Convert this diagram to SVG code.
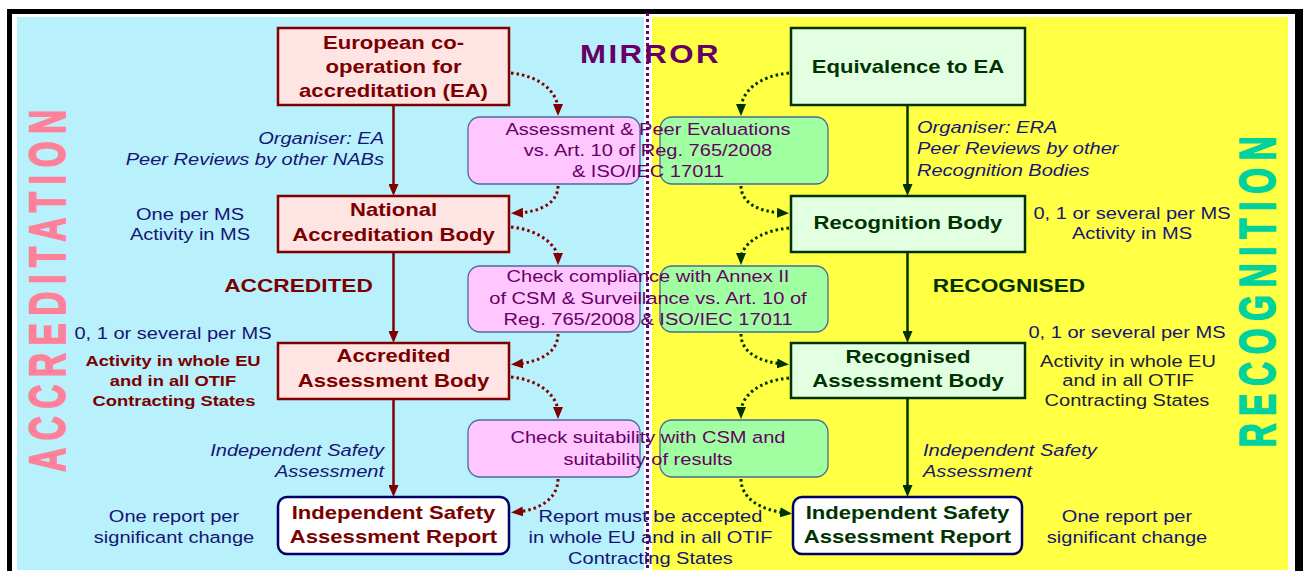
<svg xmlns="http://www.w3.org/2000/svg" width="1304" height="571" viewBox="0 0 1304 571">
<defs>
<style>
text{font-family:"Liberation Sans",Arial,sans-serif;}
.r{font-size:16.7px;}
.b{font-weight:bold;font-size:18.4px;}
.bs{font-weight:bold;font-size:15.3px;}
.bl{font-weight:bold;font-size:18.9px;}
.side{font-weight:bold;font-size:33px;letter-spacing:7.8px;text-anchor:middle;stroke-width:1.3px;}
.i{font-style:italic;}
.m{text-anchor:middle;}
.e{text-anchor:end;}
.navy{fill:#151573;}
.dred{fill:#7A0000;}
.dgrn{fill:#003300;}
.purp{fill:#660066;}
.dark{fill:#1C1C3A;}
.nl{fill:#FFE4E4;stroke:#800000;stroke-width:2.5;}
.nr{fill:#E2FFE2;stroke:#003300;stroke-width:2.5;}
.ni{fill:#FFFFFF;stroke:#000066;stroke-width:2.5;}
.mp{fill:#FFC6FF;stroke:#4A6B9A;stroke-width:1.3;}
.mg{fill:#A0FFA0;stroke:#4A6B9A;stroke-width:1.3;}
.sr{fill:none;stroke:#800000;stroke-width:2.5;}
.sg{fill:none;stroke:#003300;stroke-width:2.5;}
.dr{fill:none;stroke:#800000;stroke-width:3;stroke-dasharray:2.5 3;}
.dg{fill:none;stroke:#003300;stroke-width:3;stroke-dasharray:2.5 3;}
</style>
<marker id="arR" markerUnits="userSpaceOnUse" viewBox="0 0 12 10" markerWidth="12" markerHeight="10" refX="6" refY="5" orient="auto"><path d="M0,0 L12,5 L0,10 z" fill="#800000"/></marker>
<marker id="arG" markerUnits="userSpaceOnUse" viewBox="0 0 12 10" markerWidth="12" markerHeight="10" refX="6" refY="5" orient="auto"><path d="M0,0 L12,5 L0,10 z" fill="#003300"/></marker>
</defs>

<rect x="0" y="0" width="1304" height="571" fill="#FFFFFF"/>
<!-- frame -->
<rect x="7" y="9" width="1292" height="5" fill="#000"/>
<rect x="7" y="9" width="5" height="562" fill="#000"/>
<rect x="1295" y="9" width="8" height="562" fill="#000"/>
<!-- backgrounds -->
<rect x="17" y="17" width="627" height="553" fill="#B8F0FC"/>
<rect x="652" y="17" width="636" height="553" fill="#FFFF44"/>

<!-- side titles -->
<text class="side" style="fill:#FF8099;stroke:#FF8099" transform="translate(65 287) rotate(-90) scale(1 1.5)">ACCREDITATION</text>
<text class="side" style="fill:#00D29E;stroke:#00D29E" transform="translate(1275 288) rotate(-90) scale(1 1.5)">RECOGNITION</text>

<!-- middle boxes -->
<g id="mid1">
<rect class="mp" x="468" y="117" width="172" height="67" rx="12"/>
<rect class="mg" x="660" y="117" width="168" height="67" rx="12"/>
</g>
<g id="mid2">
<rect class="mp" x="468" y="266" width="172" height="66" rx="12"/>
<rect class="mg" x="660" y="266" width="168" height="66" rx="12"/>
</g>
<g id="mid3">
<rect class="mp" x="468" y="420" width="172" height="57" rx="12"/>
<rect class="mg" x="660" y="420" width="168" height="57" rx="12"/>
</g>

<!-- divider -->
<line x1="647.5" y1="13" x2="647.5" y2="571" stroke="#660066" stroke-width="3" stroke-dasharray="3 3"/>

<text class="purp" style="font-weight:bold;font-size:26px;letter-spacing:2px" transform="translate(580 63) scale(1.2 1)">MIRROR</text>

<!-- mid texts -->
<g id="mid1-text">
<text class="r m purp" transform="translate(648 135) scale(1.2 1)">Assessment &amp; Peer Evaluations</text>
<text class="r m purp" transform="translate(648 156) scale(1.2 1)">vs. Art. 10 of Reg. 765/2008</text>
<text class="r m purp" transform="translate(648 177) scale(1.2 1)">&amp; ISO/IEC 17011</text>
</g>
<g id="mid2-text">
<text class="r m purp" transform="translate(648 282) scale(1.2 1)">Check compliance with Annex II</text>
<text class="r m purp" transform="translate(648 304) scale(1.2 1)">of CSM &amp; Surveillance vs. Art. 10 of</text>
<text class="r m purp" transform="translate(648 325) scale(1.2 1)">Reg. 765/2008 &amp; ISO/IEC 17011</text>
</g>
<g id="mid3-text">
<text class="r m purp" transform="translate(648 443) scale(1.2 1)">Check suitability with CSM and</text>
<text class="r m purp" transform="translate(648 465) scale(1.2 1)">suitability of results</text>
</g>

<!-- connectors -->
<g id="connectors">
<line class="sr" x1="393.5" y1="105" x2="393.5" y2="190" marker-end="url(#arR)"/>
<line class="sr" x1="393.5" y1="252" x2="393.5" y2="337" marker-end="url(#arR)"/>
<line class="sr" x1="393.5" y1="399" x2="393.5" y2="491" marker-end="url(#arR)"/>
<line class="sg" x1="907.5" y1="105" x2="907.5" y2="190" marker-end="url(#arG)"/>
<line class="sg" x1="907.5" y1="252" x2="907.5" y2="337" marker-end="url(#arG)"/>
<line class="sg" x1="907.5" y1="398" x2="907.5" y2="491" marker-end="url(#arG)"/>

<path class="dr" d="M511,73 C540,76 558,92 558,110" marker-end="url(#arR)"/>
<path class="dr" d="M558,186 C558,203 540,212 517,213" marker-end="url(#arR)"/>
<path class="dr" d="M511,227 C540,230 558,246 558,259" marker-end="url(#arR)"/>
<path class="dr" d="M558,334 C558,352 540,362 517,364" marker-end="url(#arR)"/>
<path class="dr" d="M511,377 C540,380 558,396 558,413" marker-end="url(#arR)"/>
<path class="dr" d="M558,479 C558,498 540,510 517,512" marker-end="url(#arR)"/>

<path class="dg" d="M789,73 C758,76 741,92 741,110" marker-end="url(#arG)"/>
<path class="dg" d="M741,186 C741,203 759,212 783,213" marker-end="url(#arG)"/>
<path class="dg" d="M789,228 C758,231 741,246 741,259" marker-end="url(#arG)"/>
<path class="dg" d="M741,334 C741,352 759,362 783,364" marker-end="url(#arG)"/>
<path class="dg" d="M789,378 C758,381 741,396 741,413" marker-end="url(#arG)"/>
<path class="dg" d="M741,479 C741,498 760,510 786,513" marker-end="url(#arG)"/>
</g>

<!-- left nodes -->
<g id="ea">
<rect class="nl" x="278" y="28" width="231" height="77"/>
<text class="b m dred" transform="translate(393.5 49) scale(1.2 1)">European co-</text>
<text class="b m dred" transform="translate(393.5 73) scale(1.2 1)">operation for</text>
<text class="b m dred" transform="translate(393.5 97) scale(1.2 1)">accreditation (EA)</text>
</g>
<g id="nab">
<rect class="nl" x="278" y="196" width="231" height="56"/>
<text class="b m dred" transform="translate(393.5 216) scale(1.2 1)">National</text>
<text class="b m dred" transform="translate(393.5 241) scale(1.2 1)">Accreditation Body</text>
</g>
<g id="aab">
<rect class="nl" x="278" y="343" width="231" height="56"/>
<text class="b m dred" transform="translate(393.5 362) scale(1.2 1)">Accredited</text>
<text class="b m dred" transform="translate(393.5 387) scale(1.2 1)">Assessment Body</text>
</g>
<g id="isar-left">
<rect class="ni" x="278" y="497" width="231" height="57" rx="9"/>
<text class="b m dred" transform="translate(393.5 519) scale(1.2 1)">Independent Safety</text>
<text class="b m dred" transform="translate(393.5 543) scale(1.2 1)">Assessment Report</text>
</g>

<!-- right nodes -->
<g id="eq">
<rect class="nr" x="791" y="28" width="234" height="77"/>
<text class="b m dgrn" transform="translate(908 73) scale(1.2 1)">Equivalence to EA</text>
</g>
<g id="rb">
<rect class="nr" x="791" y="196" width="234" height="56"/>
<text class="b m dgrn" transform="translate(908 229) scale(1.2 1)">Recognition Body</text>
</g>
<g id="rab">
<rect class="nr" x="791" y="343" width="234" height="55"/>
<text class="b m dgrn" transform="translate(908 363) scale(1.2 1)">Recognised</text>
<text class="b m dgrn" transform="translate(908 387) scale(1.2 1)">Assessment Body</text>
</g>
<g id="isar-right">
<rect class="ni" x="793" y="497" width="229" height="57" rx="9"/>
<text class="b m dgrn" transform="translate(907.5 519) scale(1.2 1)">Independent Safety</text>
<text class="b m dgrn" transform="translate(907.5 543) scale(1.2 1)">Assessment Report</text>
</g>

<!-- left labels -->
<text class="r i e navy" transform="translate(384 144) scale(1.2 1)">Organiser: EA</text>
<text class="r i e navy" transform="translate(384 165) scale(1.2 1)">Peer Reviews by other NABs</text>
<text class="r m navy" transform="translate(190 220) scale(1.2 1)">One per MS</text>
<text class="r m navy" transform="translate(190 240) scale(1.2 1)">Activity in MS</text>
<text class="bl m dred" transform="translate(298.5 292) scale(1.2 1)">ACCREDITED</text>
<text class="r m navy" transform="translate(173 339) scale(1.2 1)">0, 1 or several per MS</text>
<text class="bs m dred" transform="translate(173 366) scale(1.2 1)">Activity in whole EU</text>
<text class="bs m dred" transform="translate(173 386) scale(1.2 1)">and in all OTIF</text>
<text class="bs m dred" transform="translate(174 406) scale(1.2 1)">Contracting States</text>
<text class="r i e navy" transform="translate(384 456) scale(1.2 1)">Independent Safety</text>
<text class="r i e navy" transform="translate(384 477) scale(1.2 1)">Assessment</text>
<text class="r m navy" transform="translate(174 522) scale(1.2 1)">One report per</text>
<text class="r m navy" transform="translate(174 543) scale(1.2 1)">significant change</text>

<!-- centre bottom -->
<text class="r m navy" transform="translate(650.5 522) scale(1.2 1)">Report must be accepted</text>
<text class="r m navy" transform="translate(650.5 543) scale(1.2 1)">in whole EU and in all OTIF</text>
<text class="r m navy" transform="translate(650.5 564) scale(1.2 1)">Contracting States</text>

<!-- right labels -->
<text class="r i navy" transform="translate(917 133) scale(1.2 1)">Organiser: ERA</text>
<text class="r i navy" transform="translate(917 154) scale(1.2 1)">Peer Reviews by other</text>
<text class="r i navy" transform="translate(917 176) scale(1.2 1)">Recognition Bodies</text>
<text class="r m navy" transform="translate(1132 219) scale(1.2 1)">0, 1 or several per MS</text>
<text class="r m navy" transform="translate(1132 239) scale(1.2 1)">Activity in MS</text>
<text class="bl m dgrn" transform="translate(1009 292) scale(1.2 1)">RECOGNISED</text>
<text class="r m navy" transform="translate(1127 338) scale(1.2 1)">0, 1 or several per MS</text>
<text class="r m dark" transform="translate(1128 367) scale(1.2 1)">Activity in whole EU</text>
<text class="r m dark" transform="translate(1128 386) scale(1.2 1)">and in all OTIF</text>
<text class="r m dark" transform="translate(1127 406) scale(1.2 1)">Contracting States</text>
<text class="r i navy" transform="translate(923 456) scale(1.2 1)">Independent Safety</text>
<text class="r i navy" transform="translate(923 477) scale(1.2 1)">Assessment</text>
<text class="r m navy" transform="translate(1127 522) scale(1.2 1)">One report per</text>
<text class="r m navy" transform="translate(1127 543) scale(1.2 1)">significant change</text>
</svg>
